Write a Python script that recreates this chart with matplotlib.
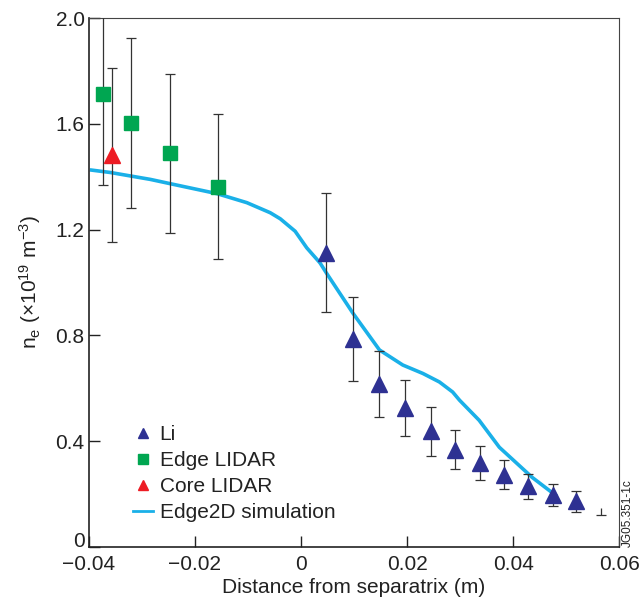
import numpy as np
from matplotlib import pyplot as plt
from matplotlib.lines import Line2D

plt.rcParams['font.family'] = ['Liberation Sans', 'DejaVu Sans']
plt.rcParams['mathtext.fontset'] = 'custom'
plt.rcParams['mathtext.rm'] = 'Liberation Sans'
plt.rcParams['mathtext.it'] = 'Liberation Sans'

# Li beam data
li_x = [0.0047, 0.0098, 0.0147, 0.0197, 0.0245, 0.0291, 0.0337, 0.0383, 0.0429, 0.0475, 0.0519]
li_y = [1.113, 0.786, 0.616, 0.526, 0.437, 0.368, 0.318, 0.273, 0.229, 0.196, 0.172]
li_err = [0.224, 0.158, 0.125, 0.105, 0.094, 0.075, 0.064, 0.055, 0.048, 0.042, 0.038]
# lone error bar at the far end (no marker)
li_tail_x = [0.0565]
li_tail_lo = [0.121]
li_tail_hi = [0.146]

# Edge LIDAR
edge_x = [-0.0374, -0.0320, -0.0246, -0.0157]
edge_y = [1.713, 1.603, 1.489, 1.363]
edge_err = [0.345, 0.32, 0.30, 0.275]

# Core LIDAR
core_x = [-0.0357]
core_y = [1.483]
core_err = [0.33]

# Edge2D simulation
sim_x = [-0.0398, -0.0359, -0.0284, -0.0240, -0.0158, -0.0102, -0.0058, -0.0039, -0.0011,
         0.0011, 0.0036, 0.0048, 0.0098, 0.0148, 0.0192, 0.0230, 0.0261, 0.0286, 0.0299,
         0.0336, 0.0374, 0.0436, 0.0483]
sim_y = [1.426, 1.416, 1.390, 1.371, 1.336, 1.302, 1.264, 1.241, 1.194,
         1.131, 1.074, 1.036, 0.884, 0.745, 0.688, 0.656, 0.624, 0.586, 0.555,
         0.479, 0.377, 0.263, 0.191]

xticks = [-0.04, -0.02, 0, 0.02, 0.04, 0.06]
xticklabels = ['\u22120.04', '\u22120.02', '0', '0.02', '0.04', '0.06']
yticks = [0, 0.4, 0.8, 1.2, 1.6, 2.0]
yticklabels = ['0', '0.4', '0.8', '1.2', '1.6', '2.0']

blue = '#2E3192'
green = '#00A651'
red = '#ED1C24'
cyan = '#1AB0E8'
ebc = '#333333'
txt = '#222222'

fig = plt.figure(figsize=(6.39, 6.01), dpi=100)
ax = fig.add_axes([0.139, 0.0899, 0.830, 0.880])

ax.plot(sim_x, sim_y, color=cyan, lw=2.6, zorder=2, solid_capstyle='butt')

ax.errorbar(edge_x, edge_y, yerr=edge_err, fmt='none', ecolor=ebc, elinewidth=0.9, capsize=3.5, capthick=0.9, zorder=3)
ax.errorbar(core_x, core_y, yerr=core_err, fmt='none', ecolor=ebc, elinewidth=0.9, capsize=3.5, capthick=0.9, zorder=3)
ax.errorbar(li_x, li_y, yerr=li_err, fmt='none', ecolor=ebc, elinewidth=0.9, capsize=3.5, capthick=0.9, zorder=3)
ax.vlines(li_tail_x, li_tail_lo, li_tail_hi, color=ebc, lw=0.9, zorder=3)
ax.plot(li_tail_x, li_tail_lo, ls='none', marker='_', ms=7, mew=0.9, color=ebc, zorder=3)

ax.plot(edge_x, edge_y, ls='none', marker='s', ms=10, color=green, zorder=4)
ax.plot(core_x, core_y, ls='none', marker='^', ms=11, color=red, zorder=4)
ax.plot(li_x, li_y, ls='none', marker='^', ms=11, color=blue, zorder=4)

ax.set_xlim(-0.04, 0.06)
ax.set_ylim(0, 2.0)
ax.set_xticks(xticks)
ax.set_xticklabels(xticklabels)
ax.set_yticks(yticks)
ax.set_yticklabels(yticklabels)
ax.tick_params(direction='in', length=8, width=1, labelsize=15, colors=txt)
ax.tick_params(axis='x', pad=6)
ax.tick_params(axis='y', pad=3)
# the "0" on the y axis sits above its tick, clear of the x labels
ax.get_yticklabels()[0].set_verticalalignment('baseline')
for s in ['left', 'bottom']:
    ax.spines[s].set_color(txt)
    ax.spines[s].set_linewidth(1.2)
for s in ['top', 'right']:
    ax.spines[s].set_color('#444444')
    ax.spines[s].set_linewidth(0.8)

ax.set_xlabel('Distance from separatrix (m)', fontsize=15, color=txt, labelpad=3)
ax.set_ylabel(r'n$_\mathrm{e}$ ($\times$10$^{19}$ m$^{-3}$)', fontsize=15, color=txt, labelpad=9)

handles = [
    Line2D([], [], ls='none', marker='^', ms=7.5, color=blue),
    Line2D([], [], ls='none', marker='s', ms=7, color=green),
    Line2D([], [], ls='none', marker='^', ms=7.5, color=red),
    Line2D([], [], color=cyan, lw=2),
]
labels = ['Li', 'Edge LIDAR', 'Core LIDAR', 'Edge2D simulation']
ax.legend(handles, labels, loc='lower left', bbox_to_anchor=(0.055, 0.02), frameon=False,
          fontsize=15, handlelength=1.0, handletextpad=0.3, labelspacing=0.33, borderpad=0.2,
          labelcolor=txt)

fig.text(0.983, 0.09, 'JG05.351-1c', rotation=90, fontsize=8.5, ha='center', va='bottom', color=txt)

plt.savefig('out.png')
plt.close()
